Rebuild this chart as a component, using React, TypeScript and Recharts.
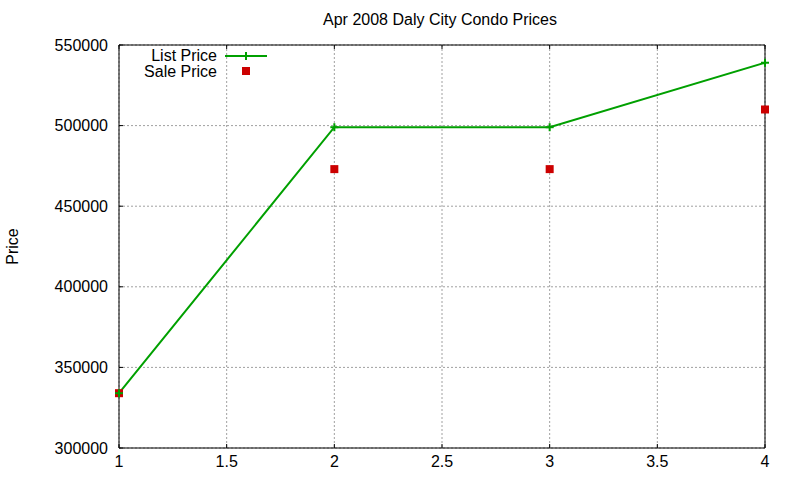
import React from "react";
import {
  ComposedChart,
  Line,
  Scatter,
  XAxis,
  YAxis,
  CartesianGrid,
  Legend,
} from "recharts";

const months = [1, 2, 3, 4];
const listPrice = [334000, 499000, 499000, 539000];
const salePrice = [334000, 473000, 473000, 510000];
const xTicks = [1, 1.5, 2, 2.5, 3, 3.5, 4];
const yTicks = [300000, 350000, 400000, 450000, 500000, 550000];

const GREEN = "#00a000";
const RED = "#cc0000";
const FONT = "'Liberation Sans', Arial, sans-serif";

const data = months.map((m, i) => ({ x: m, list: listPrice[i], sale: salePrice[i] }));

const PlusDot = (props: any) => {
  const { cx, cy } = props;
  if (cx == null || cy == null) return null;
  return (
    <g>
      <line x1={cx - 4} y1={cy} x2={cx + 4} y2={cy} stroke={GREEN} strokeWidth={2} />
      <line x1={cx} y1={cy - 4} x2={cx} y2={cy + 4} stroke={GREEN} strokeWidth={2} />
    </g>
  );
};

const SquareDot = (props: any) => {
  const { cx, cy } = props;
  if (cx == null || cy == null) return null;
  return <rect x={cx - 4} y={cy - 4} width={8} height={8} fill={RED} />;
};

const KeyBox = () => (
  <svg width={150} height={36} style={{ fontFamily: FONT, fontSize: 16 }}>
    <text x={98} y={17} textAnchor="end" fill="#000">List Price</text>
    <line x1={106} y1={12} x2={148} y2={12} stroke={GREEN} strokeWidth={2} />
    <line x1={127} y1={8} x2={127} y2={16} stroke={GREEN} strokeWidth={2} />
    <text x={98} y={33} textAnchor="end" fill="#000">Sale Price</text>
    <rect x={123} y={23} width={8} height={8} fill={RED} />
  </svg>
);

export default function App() {
  const tickStyle = { fill: "#000", fontSize: 16, fontFamily: FONT };
  return (
    <div style={{ position: "absolute", left: 0, top: 0, width: 800, height: 480, background: "#fff" }}>
      <div
        style={{
          position: "absolute",
          top: 11,
          left: 0,
          width: 880,
          textAlign: "center",
          fontFamily: FONT,
          fontSize: 16,
          color: "#000",
        }}
      >
        Apr 2008 Daly City Condo Prices
      </div>
      <ComposedChart
        width={800}
        height={480}
        data={data}
        margin={{ top: 44, right: 34, left: 0, bottom: 0 }}
      >
        <CartesianGrid
          xAxisId="bottom"
          yAxisId="left"
          stroke="#a0a0a0"
          strokeDasharray="2 2"
        />
        <XAxis
          xAxisId="bottom"
          dataKey="x"
          type="number"
          domain={[1, 4]}
          ticks={xTicks}
          height={32}
          tickSize={-4}
          tickMargin={12}
          axisLine={{ stroke: "#000" }}
          tickLine={{ stroke: "#000" }}
          tick={tickStyle}
          allowDecimals
        />
        <XAxis
          xAxisId="top"
          orientation="top"
          dataKey="x"
          type="number"
          domain={[1, 4]}
          ticks={xTicks}
          height={1}
          tickSize={-4}
          tickFormatter={() => ""}
          axisLine={{ stroke: "#000" }}
          tickLine={{ stroke: "#000" }}
        />
        <YAxis
          yAxisId="left"
          type="number"
          domain={[300000, 550000]}
          ticks={yTicks}
          width={119}
          tickSize={-4}
          tickMargin={15}
          axisLine={{ stroke: "#000" }}
          tickLine={{ stroke: "#000" }}
          tick={tickStyle}
          label={{
            value: "Price",
            angle: -90,
            position: "insideLeft",
            offset: 12,
            style: { fill: "#000", fontSize: 16, fontFamily: FONT, textAnchor: "middle" },
          }}
        />
        <YAxis
          yAxisId="right"
          orientation="right"
          type="number"
          domain={[300000, 550000]}
          ticks={yTicks}
          width={1}
          tickSize={-4}
          tickFormatter={() => ""}
          axisLine={{ stroke: "#000" }}
          tickLine={{ stroke: "#000" }}
        />
        <Legend
          layout="vertical"
          align="center"
          verticalAlign="middle"
          content={() => <KeyBox />}
          wrapperStyle={{ position: "absolute", left: 119, top: 44, width: 150, height: 36 }}
        />
        <Line
          xAxisId="bottom"
          yAxisId="left"
          dataKey="list"
          name="List Price"
          stroke={GREEN}
          strokeWidth={2}
          dot={<PlusDot />}
          activeDot={false}
          isAnimationActive={false}
        />
        <Scatter
          xAxisId="bottom"
          yAxisId="left"
          dataKey="sale"
          name="Sale Price"
          shape={<SquareDot />}
          isAnimationActive={false}
        />
      </ComposedChart>
    </div>
  );
}
